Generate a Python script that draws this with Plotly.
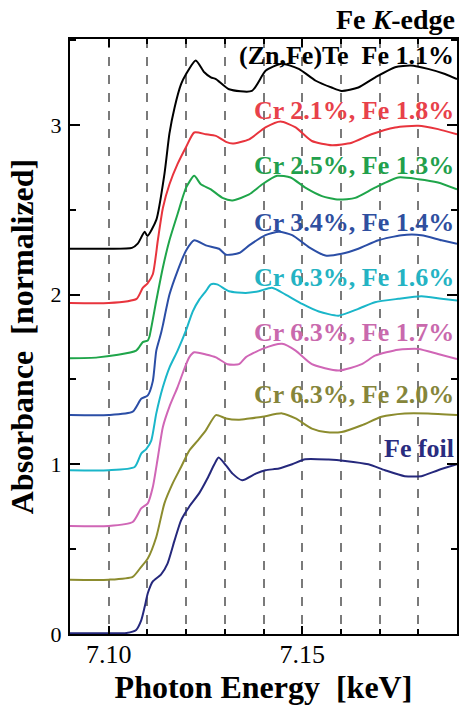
import plotly.graph_objects as go

# ---- data ----
e_znfe = [7.0900, 7.1000, 7.1060, 7.1075, 7.1093, 7.1100, 7.1123, 7.1144, 7.1157, 7.1170, 7.1187, 7.1200,
          7.1225, 7.1247, 7.1264, 7.1277, 7.1311, 7.1370, 7.1406, 7.1447, 7.1491, 7.1535, 7.1576, 7.1602,
          7.1645, 7.1689, 7.1740, 7.1781, 7.1825, 7.1869, 7.1900]
a_znfe = [2.27, 2.27, 2.275, 2.30, 2.37, 2.345, 2.44, 2.71, 2.95, 3.10, 3.24, 3.30,
          3.38, 3.31, 3.28, 3.27, 3.21, 3.20, 3.32, 3.36, 3.33, 3.26, 3.22, 3.20,
          3.22, 3.28, 3.34, 3.35, 3.33, 3.30, 3.27]

e_cr21 = [7.0900, 7.1000, 7.1072, 7.1088, 7.1100, 7.1114, 7.1127, 7.1140, 7.1157, 7.1178, 7.1200, 7.1221,
          7.1251, 7.1277, 7.1303, 7.1320, 7.1363, 7.1405, 7.1444, 7.1483, 7.1525, 7.1577, 7.1628, 7.1679,
          7.1740, 7.1800, 7.1851, 7.1900]
a_cr21 = [1.95, 1.95, 1.975, 2.04, 2.065, 2.12, 2.32, 2.51, 2.65, 2.77, 2.87, 2.955,
          2.945, 2.935, 2.90, 2.89, 2.915, 2.985, 3.02, 2.985, 2.905, 2.88, 2.895, 2.945,
          2.985, 2.995, 2.975, 2.945]

e_cr25 = [7.0900, 7.0972, 7.1071, 7.1088, 7.1101, 7.1105, 7.1123, 7.1140, 7.1157, 7.1178, 7.1200, 7.1221,
          7.1238, 7.1264, 7.1294, 7.1320, 7.1363, 7.1397, 7.1435, 7.1470, 7.1508, 7.1551, 7.1594, 7.1637,
          7.1688, 7.1748, 7.1800, 7.1851, 7.1900]
a_cr25 = [1.625, 1.63, 1.67, 1.72, 1.73, 1.75, 1.965, 2.16, 2.32, 2.475, 2.63, 2.70,
          2.65, 2.62, 2.57, 2.555, 2.59, 2.65, 2.70, 2.69, 2.63, 2.58, 2.56, 2.57,
          2.63, 2.69, 2.68, 2.66, 2.62]

e_cr34 = [7.0900, 7.1000, 7.1062, 7.1084, 7.1101, 7.1114, 7.1123, 7.1135, 7.1140, 7.1157, 7.1178, 7.1200,
          7.1221, 7.1251, 7.1285, 7.1303, 7.1337, 7.1363, 7.1405, 7.1440, 7.1474, 7.1517, 7.1560, 7.1602,
          7.1645, 7.1697, 7.1757, 7.1808, 7.1860, 7.1900]
a_cr34 = [1.29, 1.29, 1.31, 1.386, 1.406, 1.49, 1.67, 1.77, 1.82, 2.00, 2.14, 2.26,
          2.32, 2.29, 2.27, 2.235, 2.245, 2.29, 2.35, 2.37, 2.35, 2.28, 2.23, 2.24,
          2.27, 2.32, 2.35, 2.35, 2.32, 2.30]

e_cr63a = [7.0900, 7.1000, 7.1067, 7.1084, 7.1097, 7.1110, 7.1123, 7.1140, 7.1157, 7.1178, 7.1200, 7.1217,
           7.1234, 7.1251, 7.1264, 7.1280, 7.1311, 7.1354, 7.1388, 7.1422, 7.1457, 7.1500, 7.1543, 7.1594,
           7.1645, 7.1688, 7.1748, 7.1808, 7.1860, 7.1900]
a_cr63a = [0.965, 0.965, 0.984, 1.063, 1.09, 1.14, 1.30, 1.455, 1.57, 1.67, 1.79, 1.90,
           1.97, 2.02, 2.06, 2.06, 2.02, 2.01, 2.02, 2.04, 2.00, 1.945, 1.90, 1.876,
           1.916, 1.955, 1.975, 1.99, 1.975, 1.965]

e_cr63b = [7.0900, 7.1000, 7.1062, 7.1084, 7.1101, 7.1114, 7.1127, 7.1140, 7.1157, 7.1178, 7.1195, 7.1208,
           7.1221, 7.1251, 7.1277, 7.1307, 7.1337, 7.1354, 7.1397, 7.1448, 7.1483, 7.1525, 7.1594, 7.1654,
           7.1688, 7.1748, 7.1800, 7.1851, 7.1900]
a_cr63b = [0.637, 0.637, 0.66, 0.74, 0.77, 0.866, 1.04, 1.22, 1.34, 1.455, 1.56, 1.63,
           1.66, 1.647, 1.63, 1.59, 1.59, 1.63, 1.68, 1.71, 1.67, 1.59, 1.553, 1.59,
           1.64, 1.675, 1.68, 1.65, 1.62]

e_cr63c = [7.0900, 7.1000, 7.1062, 7.1084, 7.1101, 7.1123, 7.1144, 7.1165, 7.1187, 7.1208, 7.1230, 7.1251,
           7.1277, 7.1303, 7.1337, 7.1363, 7.1397, 7.1448, 7.1483, 7.1525, 7.1560, 7.1602, 7.1654, 7.1705,
           7.1765, 7.1825, 7.1900]
a_cr63c = [0.32, 0.32, 0.337, 0.396, 0.445, 0.572, 0.77, 0.886, 0.984, 1.08, 1.14, 1.20,
           1.29, 1.27, 1.263, 1.27, 1.28, 1.30, 1.27, 1.21, 1.19, 1.19, 1.23, 1.28,
           1.30, 1.30, 1.29]

e_foil = [7.0900, 7.1000, 7.1046, 7.1071, 7.1084, 7.1093, 7.1101, 7.1114, 7.1135, 7.1152, 7.1170, 7.1187,
          7.1208, 7.1234, 7.1255, 7.1273, 7.1284, 7.1303, 7.1320, 7.1345, 7.1380, 7.1405, 7.1440, 7.1474,
          7.1508, 7.1568, 7.1611, 7.1671, 7.1714, 7.1765, 7.1808, 7.1851, 7.1900]
a_foil = [0.004, 0.004, 0.006, 0.024, 0.08, 0.16, 0.24, 0.31, 0.35, 0.415, 0.55, 0.67,
          0.75, 0.83, 0.916, 1.00, 1.04, 0.994, 0.945, 0.906, 0.945, 0.965, 0.975, 1.00,
          1.03, 1.028, 1.02, 1.00, 0.965, 0.93, 0.93, 0.965, 1.00]

labels = ["(Zn,Fe)Te  Fe 1.1%", "Cr 2.1%, Fe 1.8%", "Cr 2.5%, Fe 1.3%", "Cr 3.4%, Fe 1.4%",
          "Cr 6.3%, Fe 1.6%", "Cr 6.3%, Fe 1.7%", "Cr 6.3%, Fe 2.0%", "Fe foil"]
line_colors = ["#000000", "#e8343d", "#1fa54a", "#2b4ea6", "#1ab6c9", "#d066b6", "#8c8c2e", "#25287c"]
text_colors = ["#000000", "#e8414a", "#22a04c", "#2f4f9f", "#24b3c3", "#c969ad", "#85853a", "#2a2c80"]
label_ypx = [55, 110, 165, 222, 277, 332, 394, 448]   # pixel rows of label centres

x_ticks = [7.10, 7.15]
x_ticktext = ["7.10", "7.15"]
y_ticks = [0, 1, 2, 3]

energies = [e_znfe, e_cr21, e_cr25, e_cr34, e_cr63a, e_cr63b, e_cr63c, e_foil]
absorb = [a_znfe, a_cr21, a_cr25, a_cr34, a_cr63a, a_cr63b, a_cr63c, a_foil]

SERIF = "Liberation Serif, Times New Roman, serif"
W, H = 461, 706
ML, MR, MT, MB = 70, 2, 39, 72

fig = go.Figure()
for e, a, c in zip(energies, absorb, line_colors):
    fig.add_trace(go.Scatter(x=e, y=a, mode="lines",
                             line=dict(color=c, width=2, shape="spline", smoothing=0.6),
                             showlegend=False, hoverinfo="skip"))

plot_h = H - MT - MB
plot_w = W - ML - MR
for lab, col, ypx in zip(labels, text_colors, label_ypx):
    fig.add_annotation(text=lab, xref="paper", yref="paper",
                       x=(458 - ML) / plot_w, y=(H - MB - ypx) / plot_h,
                       xanchor="right", yanchor="middle", showarrow=False,
                       font=dict(family=SERIF, size=26, color=col, weight="bold"))

fig.add_annotation(text="Fe <i>K</i>-edge", xref="paper", yref="paper",
                   x=(459 - ML) / plot_w, y=(H - MB - 20) / plot_h,
                   xanchor="right", yanchor="middle", showarrow=False,
                   font=dict(family=SERIF, size=28, color="black", weight="bold"))

fig.update_layout(
    width=W, height=H,
    margin=dict(l=ML, r=MR, t=MT, b=MB),
    paper_bgcolor="white", plot_bgcolor="white",
    showlegend=False,
    font=dict(family=SERIF, color="black"),
)
fig.update_xaxes(
    range=[7.09, 7.19], tickvals=x_ticks, ticktext=x_ticktext,
    ticks="inside", ticklen=8, tickwidth=1.5, tickcolor="black",
    showline=True, linewidth=2, linecolor="black", mirror="ticks",
    showgrid=True, griddash="dash", gridcolor="#7a7a7a", gridwidth=1.5,
    zeroline=False,
    tickfont=dict(family=SERIF, size=26, color="black"),
    ticklabelstandoff=-4,
    minor=dict(dtick=0.01, tick0=7.10, ticks="inside", ticklen=5, tickwidth=1.5, tickcolor="black",
               showgrid=True, griddash="dash", gridcolor="#7a7a7a", gridwidth=1.5),
    title=dict(text="Photon Energy  [keV]", standoff=7,
               font=dict(family=SERIF, size=32, color="black", weight="bold")),
)
fig.update_yaxes(
    range=[0, 3.506], tickvals=y_ticks,
    ticks="inside", ticklen=10, tickwidth=1.5, tickcolor="black",
    showline=True, linewidth=2, linecolor="black", mirror="ticks",
    showgrid=False, zeroline=False,
    tickfont=dict(family=SERIF, size=22, color="black"),
    ticklabelstandoff=2,
    minor=dict(dtick=0.5, ticks="inside", ticklen=6, tickwidth=1.5, tickcolor="black", showgrid=False),
    title=dict(text="Absorbance  [normalized]", standoff=7,
               font=dict(family=SERIF, size=32, color="black", weight="bold")),
)

fig.write_html("out.html", config={"displayModeBar": False},
               post_script="document.body.style.margin='0';document.body.style.overflow='hidden';")
